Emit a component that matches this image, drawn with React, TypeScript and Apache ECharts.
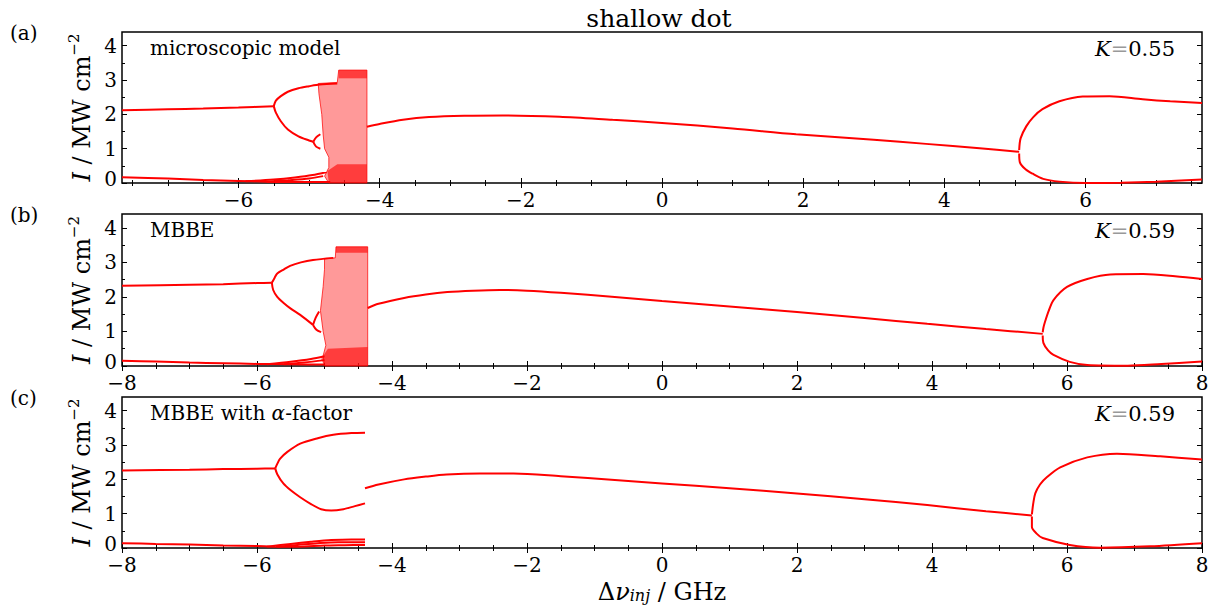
import React, { useEffect, useRef } from "react";
import * as echarts from "echarts";

// ---------- tick values ----------
const X_MAJOR = [-8, -6, -4, -2, 0, 2, 4, 6, 8];
const X_MINOR = [-7.5, -7, -6.5, -5.5, -5, -4.5, -3.5, -3, -2.5, -1.5, -1, -0.5, 0.5, 1, 1.5, 2.5, 3, 3.5, 4.5, 5, 5.5, 6.5, 7, 7.5];
const Y_MAJOR = [0, 1, 2, 3, 4];
const Y_MINOR = [0.5, 1.5, 2.5, 3.5];

// ---------- panel (a) microscopic model ----------
const A_UPPER_FIXED = [[-7.65, 2.12], [-7, 2.15], [-6.5, 2.17], [-6, 2.2], [-5.5, 2.24]];
const A_OSC_MAX = [[-5.5, 2.24], [-5.47, 2.4], [-5.4, 2.53], [-5.3, 2.66], [-5.15, 2.76], [-5.0, 2.82], [-4.85, 2.87], [-4.6, 2.9]];
const A_OSC_MIN = [[-5.5, 2.24], [-5.47, 2.05], [-5.4, 1.8], [-5.3, 1.56], [-5.15, 1.36], [-5.0, 1.24], [-4.94, 1.2]];
const A_LOOP_UP = [[-4.94, 1.2], [-4.9, 1.33], [-4.84, 1.42]];
const A_LOOP_DOWN = [[-4.94, 1.2], [-4.9, 1.06], [-4.84, 1.0]];
const A_LOW = [[-7.65, 0.17], [-7, 0.13], [-6.5, 0.09], [-6, 0.06], [-5.6, 0.04], [-5.2, 0.03], [-4.9, 0.03], [-4.7, 0.03]];
const A_LOW_2 = [[-5.9, 0.05], [-5.5, 0.1], [-5.2, 0.16], [-4.95, 0.23], [-4.75, 0.32]];
const A_LOW_3 = [[-5.6, 0.04], [-5.3, 0.08], [-5.0, 0.13], [-4.8, 0.2]];
const A_CHAOS = [[-4.87, 2.9], [-4.6, 2.93], [-4.58, 3.29], [-4.18, 3.29], [-4.18, 0], [-4.72, 0], [-4.78, 0.2], [-4.72, 0.45], [-4.72, 0.75], [-4.78, 1.0], [-4.8, 1.4], [-4.82, 2.0], [-4.86, 2.6]];
const A_CHAOS_DENSE_LOW = [[-4.72, 0], [-4.18, 0], [-4.18, 0.55], [-4.6, 0.55], [-4.74, 0.35]];
const A_CHAOS_DENSE_TOP = [[-4.58, 3.05], [-4.18, 3.05], [-4.18, 3.29], [-4.58, 3.29]];
const A_STABLE = [[-4.18, 1.64], [-4, 1.72], [-3.67, 1.84], [-3.3, 1.92], [-2.8, 1.96], [-2.26, 1.97], [-1.45, 1.93], [-0.7, 1.84], [0, 1.75], [1, 1.59], [1.9, 1.42], [3, 1.26], [3.74, 1.14], [4.5, 1.01], [5.06, 0.91]];
const A_HOPF_MAX = [[5.06, 0.96], [5.08, 1.3], [5.16, 1.65], [5.26, 1.92], [5.39, 2.15], [5.63, 2.38], [5.96, 2.52], [6.34, 2.53], [6.81, 2.44], [7.2, 2.38], [7.65, 2.33]];
const A_HOPF_MIN = [[5.06, 0.86], [5.07, 0.6], [5.15, 0.4], [5.25, 0.27], [5.4, 0.12], [5.63, 0.04], [6.0, 0.0], [6.5, 0.01], [7.0, 0.04], [7.65, 0.1]];

// ---------- panel (b) MBBE ----------
const B_UPPER_FIXED = [[-8, 2.32], [-7, 2.35], [-6.5, 2.37], [-6, 2.4], [-5.78, 2.41]];
const B_OSC_MAX = [[-5.78, 2.41], [-5.74, 2.55], [-5.7, 2.68], [-5.6, 2.8], [-5.51, 2.9], [-5.35, 3.0], [-5.17, 3.07], [-4.87, 3.13]];
const B_OSC_MIN = [[-5.78, 2.41], [-5.76, 2.2], [-5.7, 2.0], [-5.61, 1.83], [-5.5, 1.66], [-5.36, 1.48], [-5.17, 1.19]];
const B_LOOP_UP = [[-5.17, 1.19], [-5.13, 1.4], [-5.08, 1.58]];
const B_LOOP_DOWN = [[-5.17, 1.19], [-5.12, 1.05], [-5.05, 0.98]];
const B_LOW = [[-8, 0.15], [-7.5, 0.13], [-7, 0.1], [-6.5, 0.08], [-6, 0.06], [-5.5, 0.05], [-5.0, 0.04]];
const B_LOW_2 = [[-5.85, 0.05], [-5.5, 0.12], [-5.2, 0.2], [-5.0, 0.28]];
const B_LOW_3 = [[-5.6, 0.05], [-5.3, 0.1], [-5.0, 0.17]];
const B_CHAOS = [[-5.0, 3.1], [-4.84, 3.13], [-4.83, 3.45], [-4.36, 3.45], [-4.36, 0], [-5.0, 0], [-5.02, 0.3], [-4.98, 0.6], [-5.02, 1.0], [-5.06, 1.6], [-5.02, 2.3], [-5.0, 2.8]];
const B_CHAOS_DENSE_LOW = [[-5.0, 0], [-4.36, 0], [-4.36, 0.55], [-4.95, 0.5], [-5.05, 0.2]];
const B_CHAOS_DENSE_TOP = [[-4.83, 3.28], [-4.36, 3.28], [-4.36, 3.45], [-4.83, 3.45]];
const B_STABLE = [[-4.36, 1.68], [-4.2, 1.8], [-3.82, 1.97], [-3.5, 2.07], [-3.18, 2.14], [-2.8, 2.18], [-2.4, 2.2], [-2, 2.18], [-1.5, 2.12], [-0.7, 2.0], [0, 1.88], [1, 1.72], [2, 1.56], [3, 1.39], [3.93, 1.22], [4.8, 1.07], [5.64, 0.93]];
const B_HOPF_MAX = [[5.64, 0.97], [5.65, 1.1], [5.67, 1.25], [5.73, 1.6], [5.8, 1.91], [6.0, 2.29], [6.3, 2.52], [6.64, 2.65], [7.13, 2.66], [7.6, 2.6], [8, 2.52]];
const B_HOPF_MIN = [[5.64, 0.88], [5.65, 0.67], [5.72, 0.45], [5.8, 0.32], [6.04, 0.12], [6.3, 0.03], [6.9, 0.01], [7.4, 0.06], [8, 0.13]];

// ---------- panel (c) MBBE with alpha-factor ----------
const C_UPPER_FIXED = [[-8, 2.26], [-7, 2.28], [-6.5, 2.3], [-6, 2.31], [-5.73, 2.32]];
const C_OSC_MAX = [[-5.73, 2.32], [-5.7, 2.45], [-5.66, 2.6], [-5.55, 2.8], [-5.36, 3.04], [-5.1, 3.2], [-4.87, 3.3], [-4.6, 3.35], [-4.4, 3.36]];
const C_OSC_MIN = [[-5.73, 2.32], [-5.7, 2.15], [-5.61, 1.88], [-5.5, 1.68], [-5.36, 1.48], [-5.2, 1.28], [-5.05, 1.13], [-4.9, 1.09], [-4.72, 1.13], [-4.55, 1.22], [-4.4, 1.3]];
const C_LOW = [[-8, 0.14], [-7.5, 0.12], [-7, 0.1], [-6.5, 0.07], [-6, 0.06], [-5.73, 0.04]];
const C_LOW_1 = [[-5.85, 0.04], [-5.5, 0.12], [-5.2, 0.18], [-4.9, 0.23], [-4.6, 0.25], [-4.4, 0.25]];
const C_LOW_2 = [[-5.7, 0.04], [-5.4, 0.09], [-5.1, 0.14], [-4.8, 0.17], [-4.4, 0.17]];
const C_LOW_3 = [[-5.73, 0.04], [-5.4, 0.04], [-5.0, 0.07], [-4.7, 0.08], [-4.4, 0.09]];
const C_STABLE = [[-4.4, 1.74], [-4.2, 1.85], [-3.82, 2.0], [-3.5, 2.08], [-3.19, 2.14], [-2.7, 2.17], [-2.2, 2.17], [-1.5, 2.09], [-0.7, 1.98], [0, 1.88], [1, 1.74], [2, 1.59], [3, 1.42], [3.93, 1.25], [4.8, 1.07], [5.48, 0.95]];
const C_HOPF_MAX = [[5.48, 0.98], [5.5, 1.3], [5.53, 1.59], [5.6, 1.85], [5.7, 2.06], [5.9, 2.35], [6.3, 2.64], [6.74, 2.75], [7.38, 2.67], [8, 2.58]];
const C_HOPF_MIN = [[5.48, 0.92], [5.48, 0.61], [5.55, 0.42], [5.64, 0.29], [6.04, 0.09], [6.49, 0.01], [7.23, 0.05], [8, 0.14]];

// ---------- texts ----------
const TITLE = "shallow dot";
const PANEL_LETTERS = ["(a)", "(b)", "(c)"];
const PANEL_NAMES = ["microscopic model", "MBBE", "MBBE with {it|α}-factor"];
const K_VALUES = ["0.55", "0.59", "0.59"];

const FONT = "'DejaVu Serif', serif";
const RED = "#ff0000";

const GRID_LEFT = 122;
const GRID_WIDTH = 1080;
const GRID_BOXES = [
  { top: 32, height: 151 },
  { top: 214, height: 152 },
  { top: 397, height: 151 },
];

const PANELS = [
  {
    xMin: -7.65, xMax: 7.65,
    lines: [A_UPPER_FIXED, A_OSC_MAX, A_OSC_MIN, A_LOOP_UP, A_LOOP_DOWN, A_LOW, A_LOW_2, A_LOW_3, A_STABLE, A_HOPF_MAX, A_HOPF_MIN],
    chaos: [A_CHAOS], dense: [A_CHAOS_DENSE_LOW, A_CHAOS_DENSE_TOP],
  },
  {
    xMin: -8, xMax: 8,
    lines: [B_UPPER_FIXED, B_OSC_MAX, B_OSC_MIN, B_LOOP_UP, B_LOOP_DOWN, B_LOW, B_LOW_2, B_LOW_3, B_STABLE, B_HOPF_MAX, B_HOPF_MIN],
    chaos: [B_CHAOS], dense: [B_CHAOS_DENSE_LOW, B_CHAOS_DENSE_TOP],
  },
  {
    xMin: -8, xMax: 8,
    lines: [C_UPPER_FIXED, C_OSC_MAX, C_OSC_MIN, C_LOW, C_LOW_1, C_LOW_2, C_LOW_3, C_STABLE, C_HOPF_MAX, C_HOPF_MIN],
    chaos: [], dense: [],
  },
];

const Y_MIN = 0;
const Y_MAX = 4.4;

const fmt = (v: number) => (v < 0 ? "\u2212" + String(-v) : String(v));
const fmtY = (v: number) => (v === 0 ? "{z|0}" : fmt(v));

function makeXAxes(g: number, min: number, max: number) {
  const maj = X_MAJOR.filter((v) => v >= min && v <= max);
  const mnr = X_MINOR.filter((v) => v >= min && v <= max);
  const base = { type: "value", gridIndex: g, min, max, splitLine: { show: false }, axisLine: { show: false } };
  const tick = (vals: number[], len: number) => ({ show: true, inside: true, length: len, customValues: vals, lineStyle: { color: "#000", width: 1 } });
  return [
    { ...base, position: "bottom", axisTick: tick(maj, 5), axisLabel: { show: true, customValues: maj, formatter: fmt, fontFamily: FONT, fontSize: 20, lineHeight: 18, color: "#000", margin: 8 } },
    { ...base, position: "bottom", axisTick: tick(mnr, 3), axisLabel: { show: false } },
    { ...base, position: "top", axisTick: tick(maj, 5), axisLabel: { show: false } },
    { ...base, position: "top", axisTick: tick(mnr, 3), axisLabel: { show: false } },
  ];
}

function makeYAxes(g: number) {
  const base = { type: "value", gridIndex: g, min: Y_MIN, max: Y_MAX, splitLine: { show: false }, axisLine: { show: false, onZero: false } };
  const tick = (vals: number[], len: number) => ({ show: true, inside: true, length: len, customValues: vals, lineStyle: { color: "#000", width: 1 } });
  return [
    {
      ...base, position: "left", axisTick: tick(Y_MAJOR, 5),
      axisLabel: {
        show: true, customValues: Y_MAJOR, formatter: fmtY, fontFamily: FONT, fontSize: 20, lineHeight: 14, color: "#000", margin: 5,
        rich: { z: { fontFamily: FONT, fontSize: 20, lineHeight: 14, color: "#000", padding: [0, 0, 8, 0] } },
      },
    },
    { ...base, position: "left", axisTick: tick(Y_MINOR, 3), axisLabel: { show: false } },
    { ...base, position: "right", axisTick: tick(Y_MAJOR, 5), axisLabel: { show: false } },
    { ...base, position: "right", axisTick: tick(Y_MINOR, 3), axisLabel: { show: false } },
  ];
}

function polygonSeries(g: number, poly: number[][], fill: string, stroke: string) {
  return {
    type: "custom",
    xAxisIndex: 4 * g,
    yAxisIndex: 4 * g,
    data: poly,
    silent: true,
    renderItem: (params: any, api: any) => {
      if (params.dataIndex !== 0) return null;
      const pts = poly.map((p) => api.coord(p));
      return { type: "polygon", shape: { points: pts }, style: { fill, stroke, lineWidth: 0.8 } };
    },
  };
}

export default function App() {
  const ref = useRef<HTMLDivElement>(null);
  useEffect(() => {
    if (!ref.current) return;
    const chart = echarts.init(ref.current, undefined, { renderer: "svg" });

    const grids = GRID_BOXES.map((b) => ({
      left: GRID_LEFT, width: GRID_WIDTH, top: b.top, height: b.height,
      show: true, borderColor: "#000", borderWidth: 1.5, backgroundColor: "#fff",
    }));
    const xAxis: any[] = [];
    const yAxis: any[] = [];
    const series: any[] = [];
    PANELS.forEach((p, g) => {
      xAxis.push(...makeXAxes(g, p.xMin, p.xMax));
      yAxis.push(...makeYAxes(g));
      p.chaos.forEach((poly) => series.push(polygonSeries(g, poly, "rgba(255,70,70,0.55)", "rgba(255,0,0,0.9)")));
      p.dense.forEach((poly) => series.push(polygonSeries(g, poly, "rgba(255,0,0,0.6)", "none")));
      p.lines.forEach((d) =>
        series.push({
          type: "line", xAxisIndex: 4 * g, yAxisIndex: 4 * g, data: d,
          showSymbol: false, symbol: "none", smooth: 0.3,
          lineStyle: { color: RED, width: 2 }, silent: true,
        })
      );
    });

    const graphic: any[] = [
      { type: "text", x: 659, y: 18, style: { text: TITLE, font: `25px ${FONT}`, fill: "#000", align: "center", verticalAlign: "middle" } },
      {
        type: "text", x: 662, y: 592,
        style: {
          text: "{n|\u0394}{it|\u03bd}{sub|inj}{n| / GHz}", align: "center", verticalAlign: "middle",
          rich: {
            n: { fontFamily: FONT, fontSize: 24, fill: "#000", lineHeight: 22 },
            it: { fontFamily: FONT, fontSize: 24, fontStyle: "italic", fill: "#000", lineHeight: 22 },
            sub: { fontFamily: FONT, fontSize: 16, fontStyle: "italic", fill: "#000", verticalAlign: "bottom", lineHeight: 22 },
          },
        },
      },
    ];
    GRID_BOXES.forEach((b, g) => {
      const cy = b.top + b.height / 2;
      graphic.push({ type: "text", x: 10, y: b.top + 1, style: { text: PANEL_LETTERS[g], font: `20px ${FONT}`, fill: "#000", align: "left", verticalAlign: "middle" } });
      graphic.push({
        type: "text", x: 150, y: b.top + 16,
        style: {
          text: PANEL_NAMES[g], font: `20px ${FONT}`, fill: "#000", align: "left", verticalAlign: "middle",
          rich: { it: { fontFamily: FONT, fontSize: 20, fontStyle: "italic", fill: "#000" } },
        },
      });
      graphic.push({
        type: "text", x: 1175, y: b.top + 17,
        style: {
          text: "{it|K}{g|=}{n|" + K_VALUES[g] + "}", align: "right", verticalAlign: "middle",
          rich: {
            it: { fontFamily: FONT, fontSize: 21, fontStyle: "italic", fill: "#000" },
            g: { fontFamily: FONT, fontSize: 21, fill: "#999" },
            n: { fontFamily: FONT, fontSize: 21, fill: "#000" },
          },
        },
      });
      graphic.push({
        type: "text", x: 82, y: cy, rotation: Math.PI / 2,
        style: {
          text: "{it|I}{n| / MW cm}{sup|\u22122}", align: "center", verticalAlign: "middle",
          rich: {
            it: { fontFamily: FONT, fontSize: 24, fontStyle: "italic", fill: "#000", lineHeight: 32 },
            n: { fontFamily: FONT, fontSize: 24, fill: "#000", lineHeight: 32 },
            sup: { fontFamily: FONT, fontSize: 15, fill: "#000", verticalAlign: "top", lineHeight: 32 },
          },
        },
      });
    });

    chart.setOption({
      animation: false,
      backgroundColor: "#fff",
      grid: grids,
      xAxis,
      yAxis,
      series,
      graphic,
    });
    return () => chart.dispose();
  }, []);

  return <div ref={ref} style={{ position: "absolute", left: 0, top: 0, width: 1218, height: 608 }} />;
}
